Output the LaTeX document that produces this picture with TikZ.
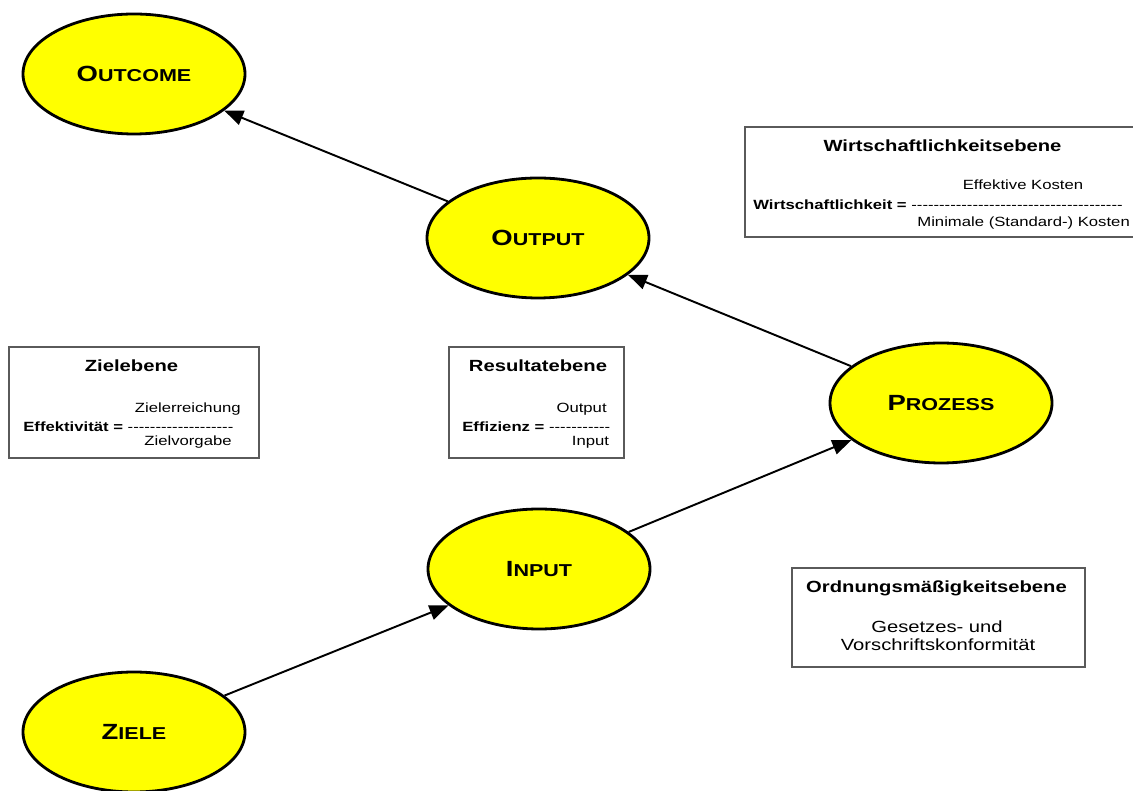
\documentclass[tikz,border=0pt]{standalone}
\usepackage{fontspec}
\setmainfont{Liberation Sans}[FakeStretch=1.25]
\usepackage{tikz}
\usetikzlibrary{arrows.meta,shapes.geometric}
\definecolor{ovalYellow}{HTML}{FFFF00}
\definecolor{boxGray}{HTML}{5A5A5A}
\newcommand\capword[2]{{\fontsize{12.5}{14}\selectfont #1}{\fontsize{9.8}{12}\selectfont #2}}
\newcommand\dashrow[1]{\foreach \k in {1,...,#1}{\mbox{-}}}

\begin{document}
\begin{tikzpicture}[
  oval/.style={ellipse, draw, line width=1.6pt, fill=ovalYellow, minimum width=4.44cm, minimum height=2.4cm, inner sep=0pt, font=\bfseries},
  flow/.style={-{Triangle[length=0.38cm,width=0.3cm]}, line width=1.1pt},
  ebene/.style={draw=boxGray, line width=0.6pt, inner sep=0pt},
  titel/.style={anchor=base, inner sep=0pt, font=\fontsize{9.2}{11}\selectfont\bfseries},
  zeile/.style={inner sep=0pt, font=\fontsize{7.6}{9}\selectfont},
  grosszeile/.style={anchor=base, inner sep=0pt, font=\fontsize{9.2}{11}\selectfont}
]
\useasboundingbox (0,0) rectangle (22.66,15.82);
% ---------- the five stages ----------
\node[oval] (outcome) at (2.68,14.34) {\capword{O}{UTCOME}};
\node[oval] (output)  at (10.76,11.06) {\capword{O}{UTPUT}};
\node[oval] (prozess) at (18.82,7.76) {\capword{P}{ROZESS}};
\node[oval] (input)   at (10.78,4.44) {\capword{I}{NPUT}};
\node[oval] (ziele)   at (2.68,1.18) {\capword{Z}{IELE}};
\draw[flow] (ziele) -- (input);
\draw[flow] (input) -- (prozess);
\draw[flow] (prozess) -- (output);
\draw[flow] (output) -- (outcome);
% ---------- Wirtschaftlichkeitsebene ----------
\node[ebene, minimum width=8.1cm, minimum height=2.2cm] (wirtbox) at (18.95,12.18) {};
\node[titel] (wirttitel) at (18.85,12.78) {Wirtschaftlichkeitsebene};
\node[zeile, anchor=base] (wirtzaehler) at (20.46,12.02) {Effektive Kosten};
\node[zeile, anchor=base west] (wirtformel) at (15.06,11.62) {\textbf{Wirtschaftlichkeit =} \dashrow{38}};
\node[zeile, anchor=base west] (wirtnenner) at (18.34,11.28) {Minimale (Standard-) Kosten};
% ---------- Zielebene ----------
\node[ebene, minimum width=5cm, minimum height=2.22cm] (zielbox) at (2.68,7.77) {};
\node[titel] (zieltitel) at (2.63,8.38) {Zielebene};
\node[zeile, anchor=base east] (zielzaehler) at (4.82,7.56) {Zielerreichung};
\node[zeile, anchor=base west] (zielformel) at (0.46,7.18) {\textbf{Effektivität =} \dashrow{19}};
\node[zeile, anchor=base] (zielnenner) at (3.76,6.9) {Zielvorgabe};
% ---------- Resultatebene ----------
\node[ebene, minimum width=3.5cm, minimum height=2.22cm] (resbox) at (10.73,7.77) {};
\node[titel] (restitel) at (10.76,8.38) {Resultatebene};
\node[zeile, anchor=base east] (reszaehler) at (12.14,7.56) {Output};
\node[zeile, anchor=base west] (resformel) at (9.24,7.18) {\textbf{Effizienz =} \dashrow{11}};
\node[zeile, anchor=base] (resnenner) at (11.81,6.9) {Input};
% ---------- Ordnungsmaessigkeitsebene ----------
\node[ebene, minimum width=5.86cm, minimum height=1.98cm] (ordbox) at (18.77,3.47) {};
\node[titel] (ordtitel) at (18.73,3.96) {Ordnungsmäßigkeitsebene};
\node[grosszeile] (ordzeile1) at (18.74,3.16) {Gesetzes- und};
\node[grosszeile] (ordzeile2) at (18.76,2.8) {Vorschriftskonformität};
\end{tikzpicture}
\end{document}
